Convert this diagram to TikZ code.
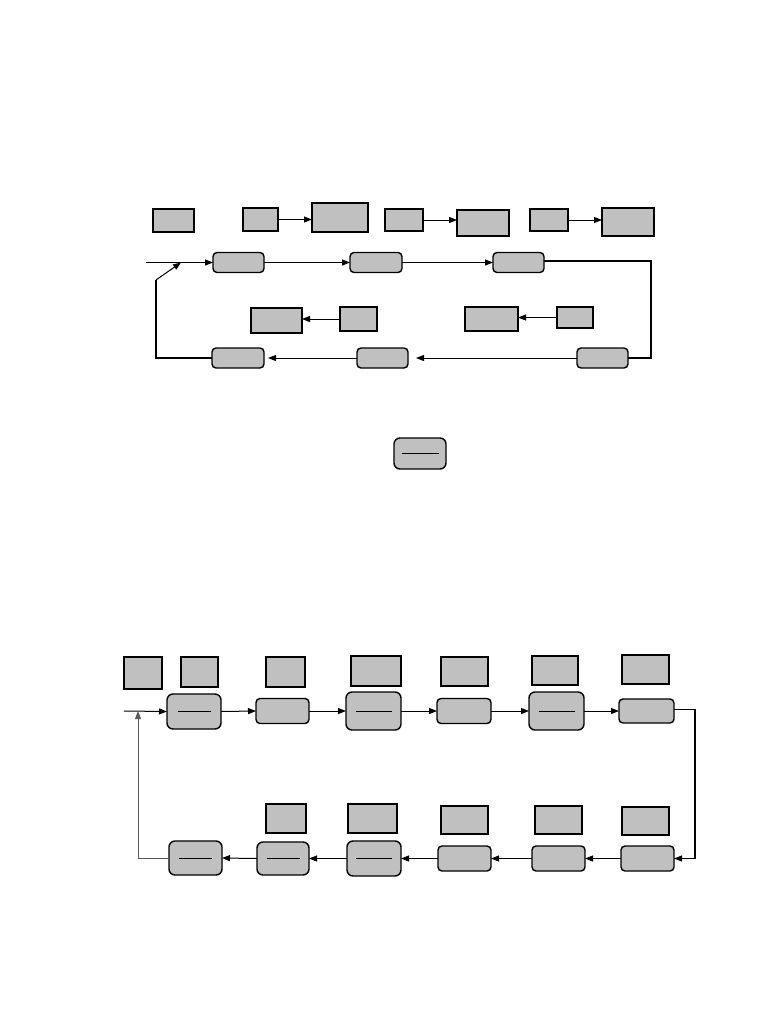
\documentclass[tikz,border=0pt]{standalone}
\usetikzlibrary{arrows.meta}
\definecolor{boxgray}{HTML}{C0C0C0}
\newcommand\mybox[6]{\node[#2, minimum width={(#5-#3)*1pt}, minimum height={(#6-#4)*1pt}] (#1) at ({(#3+#5)/2},{(#4+#6)/2}) {};}
\newcommand\mylbox[7]{\node[#2, minimum width={(#5-#3)*1pt}, minimum height={(#6-#4)*1pt}] (#1) at ({(#3+#5)/2},{(#4+#6)/2}) {\rule{#7pt}{1pt}};}
\begin{document}
\begin{tikzpicture}[x=1pt,y=-1pt,
  gbox/.style={draw=black, fill=boxgray, line width=1.4pt, inner sep=0pt, outer sep=0pt},
  tbox/.style={gbox, line width=2pt},
  rbox/.style={gbox, rounded corners=4pt},
  rrbox/.style={gbox, rounded corners=6pt},
  conn/.style={draw=black, line width=1pt},
  arr/.style={conn, -{Triangle[length=8pt,width=6pt]}},
  thickconn/.style={draw=black, line width=1.6pt}]
\useasboundingbox (0,0) rectangle (766,1020);
\fill[white] (0,0) rectangle (766,1020);

% ===== top diagram =====
\mybox{A}{gbox}{153}{209}{194}{232}
\mybox{B}{gbox}{243}{208}{278}{231}
\mybox{C}{tbox}{312}{203}{368}{232}
\mybox{D}{gbox}{385}{209}{423}{231}
\mybox{E}{gbox}{457}{210}{509}{236}
\mybox{F}{gbox}{530}{209}{568}{231}
\mybox{G}{tbox}{602}{208}{654}{236}

\mybox{R1}{rbox}{213}{252.5}{264}{272.5}
\mybox{R2}{rbox}{350}{252.5}{402}{272.5}
\mybox{R3}{rbox}{493}{252.5}{544}{272.5}

\mybox{H}{gbox}{251}{308}{302}{333}
\mybox{I}{gbox}{340}{307}{377}{331}
\mybox{J}{gbox}{465}{307}{518}{331}
\mybox{K}{gbox}{557}{307}{593}{328}

\mybox{R4}{rbox}{212}{348}{264}{368}
\mybox{R5}{rbox}{357}{348}{408}{368}
\mybox{R6}{rbox}{577}{348}{628}{368}

\coordinate (in1) at (146,262.5);
\coordinate (d1) at (156,280);
\coordinate (d2) at (181,262.5);
\coordinate (c1) at (651,358);

\draw[arr] (in1) -- (R1.west);
\draw[arr] (d1) -- (d2);
\draw[thickconn] (R4.west) -| (d1);
\draw[arr] (R1.east) -- (R2.west);
\draw[arr] (R2.east) -- (R3.west);
\draw[thickconn] (R3.east) ++(0,-1.5) -| (c1) -- (R6.east);
\draw[arr, shorten >=8pt] (R6.west) -- (R5.east);
\draw[arr, shorten >=4pt] (R5.west) -- (R4.east);

\draw[arr] (B.east) -- (B.east -| C.west);
\draw[arr] (D.east) -- (D.east -| E.west);
\draw[arr] (F.east) -- (F.east -| G.west);
\draw[arr] (I.west) -- (I.west -| H.east);
\draw[arr] (K.west) -- (K.west -| J.east);

% lone box
\mylbox{Z}{rrbox}{394}{438}{446}{469}{37}

% ===== bottom diagram =====
\mybox{L1}{gbox}{124}{657}{162}{689}
\mybox{L2}{tbox}{181}{657}{218}{687}
\mybox{L3}{gbox}{266}{657}{305}{687}
\mybox{L4}{gbox}{351}{656}{401}{686}
\mybox{L5}{gbox}{441}{657}{488}{686}
\mybox{L6}{gbox}{532}{656}{578}{685}
\mybox{L7}{gbox}{622}{655}{669}{684}

\mylbox{S1}{rrbox}{167}{694}{221}{729}{33}
\mybox{S2}{rbox}{256}{698.5}{309}{723.5}
\mylbox{S3}{rrbox}{346}{692}{401}{730}{36}
\mybox{S4}{rbox}{437}{698.5}{491}{723.5}
\mylbox{S5}{rrbox}{529}{692}{584}{730}{36}
\mybox{S6}{rbox}{619}{699}{674}{723}

\mybox{M2}{tbox}{266}{804}{306}{833}
\mybox{M3}{gbox}{348}{804}{397}{833}
\mybox{M5}{tbox}{441}{806}{488}{834}
\mybox{M6}{gbox}{535}{806}{582}{834}
\mybox{M7}{gbox}{622}{807}{669}{835}

\mylbox{T1}{rrbox}{169}{841}{222}{875}{33}
\mylbox{T2}{rrbox}{257}{842}{309}{875}{33}
\mylbox{T3}{rrbox}{347}{841}{401}{876}{36}
\mybox{T4}{rbox}{438}{846}{491}{871}
\mybox{T5}{rbox}{532}{846}{585}{871}
\mybox{T6}{rbox}{621}{846}{674}{871}

\coordinate (in2) at (124,711);
\coordinate (v1) at (138,711);
\coordinate (c2) at (695,858.5);

\draw[arr] (in2) -- (S1.west);
\draw[arr, draw=black!65] (T1.west) -| (v1);
\draw[arr] (S1.east) -- (S2.west);
\draw[arr] (S2.east) -- (S3.west);
\draw[arr] (S3.east) -- (S4.west);
\draw[arr] (S4.east) -- (S5.west);
\draw[arr] (S5.east) -- (S6.west);
\draw[thickconn] (S6.east) ++(0,-1.5) -| (c2);
\draw[arr] (c2) -- (T6.east);
\draw[arr] (T6.west) -- (T5.east);
\draw[arr] (T5.west) -- (T4.east);
\draw[arr] (T4.west) -- (T3.east);
\draw[arr] (T3.west) -- (T2.east);
\draw[arr] (T2.west) -- (T1.east);
\end{tikzpicture}
\end{document}
